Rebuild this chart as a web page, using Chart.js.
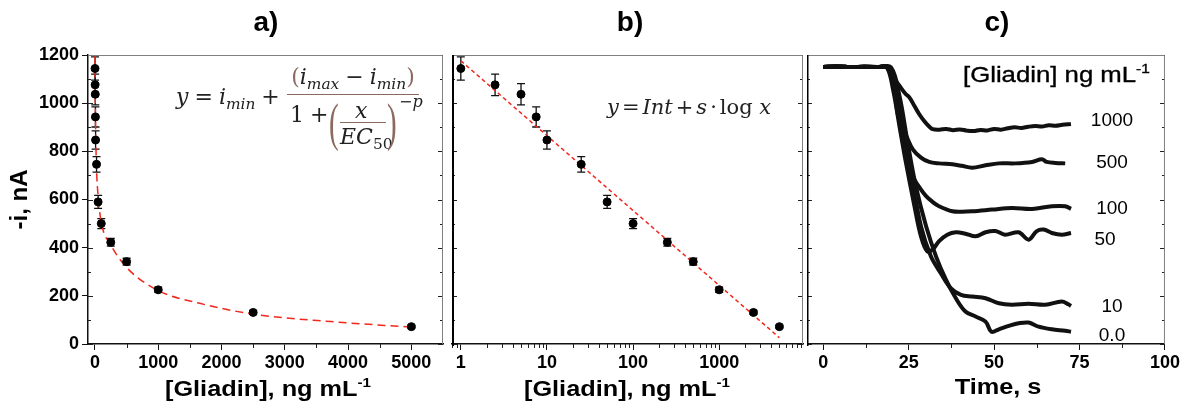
<!DOCTYPE html>
<html>
<head>
<meta charset="utf-8">
<title>Gliadin</title>
<script src="https://cdn.jsdelivr.net/npm/chart.js"></script>
<style>
    body { margin: 0; background: #fff; }
    #wrap { position: relative; width: 1182px; height: 410px; overflow: hidden; font-family: 'Liberation Sans', Arial, sans-serif; color: #000; }
    canvas { position: absolute; top: 0; }
    .t { position: absolute; white-space: nowrap; line-height: 1; }
    .panel { font-weight: bold; font-size: 28px; top: 8px; transform: translateX(-50%); }
    .xt { font-weight: bold; font-size: 22px; top: 376px; transform: translateX(-50%) scaleX(1.15); }
    .xt sup, .hd sup { font-size: 0.6em; vertical-align: 0.65em; }
    .hd { font-size: 22px; left: 963px; top: 62px; transform-origin: left center; transform: scaleX(1.17); -webkit-text-stroke: 0.35px #000; }
    .cl { font-size: 19px; transform: translate(-50%, -50%); }
    .m { font-family: 'DejaVu Serif', serif; font-style: italic; font-size: 22px; color: #222; }
    .m .up { font-style: normal; }
    .m sub { font-size: 0.7em; vertical-align: -0.35em; }
    .br { color: #8b6a60; font-style: normal; }
    .op { font-style: normal; margin: 0 6px; }
    #eqB .op { margin: 0 3px; }
    .big { font-family: 'Liberation Serif', serif; font-size: 29px; color: #8b6a60; transform: scaleY(1.8); transform-origin: top left; }
</style>
</head>
<body>
<div id="wrap">
    <canvas id="cA" width="448" height="410" style="left:0"></canvas>
    <canvas id="cB" width="361" height="410" style="left:447px"></canvas>
    <canvas id="cC" width="375" height="410" style="left:807px"></canvas>

    <div class="t panel" style="left:266px">a)</div>
    <div class="t panel" style="left:630px">b)</div>
    <div class="t panel" style="left:997px">c)</div>

    <div class="t xt" style="left:268px">[Gliadin], ng mL<sup>-1</sup></div>
    <div class="t xt" style="left:627px">[Gliadin], ng mL<sup>-1</sup></div>
    <div class="t xt" style="left:998px">Time, s</div>

    <!-- equation a -->
    <div class="t m" style="left:176px;top:86px">y<span class="op">=</span>i<sub>min</sub><span class="op">+</span></div>
    <div class="t m" style="left:353px;top:66px;transform:translateX(-50%)"><span class="br">(</span>i<sub>max</sub><span class="op">−</span>i<sub>min</sub><span class="br">)</span></div>
    <div class="t" style="left:287px;top:94px;width:132px;height:0;border-top:1.5px solid #8b6a60"></div>
    <div class="t m" style="left:290px;top:104px"><span class="up">1</span><span class="op">+</span></div>
    <div class="t big" style="left:329px;top:97px">(</div>
    <div class="t m" style="left:355px;top:100px">x</div>
    <div class="t" style="left:340px;top:122px;width:46px;height:0;border-top:1.5px solid #8b6a60"></div>
    <div class="t m" style="left:340px;top:126px">EC<sub class="up">50</sub></div>
    <div class="t big" style="left:387px;top:97px">)</div>
    <div class="t m" style="left:399px;top:94px;font-size:16px"><span class="up">−</span>p</div>

    <!-- equation b -->
    <div id="eqB" class="t m" style="left:607px;top:97px;font-size:21px">y<span class="op">=</span>Int<span class="op">+</span>s<span class="op">·</span><span class="up">log</span> x</div>

    <div class="t hd">[Gliadin] ng mL<sup>-1</sup></div>
    <div class="t cl" style="left:1112px;top:119px">1000</div>
    <div class="t cl" style="left:1112px;top:161px">500</div>
    <div class="t cl" style="left:1112px;top:207px">100</div>
    <div class="t cl" style="left:1105px;top:238px">50</div>
    <div class="t cl" style="left:1112px;top:305px">10</div>
    <div class="t cl" style="left:1112px;top:334px">0.0</div>
</div>

<script>
    // calibration data, panels a and b
    const conc = [1, 2.5, 5, 7.5, 10, 25, 50, 100, 250, 500, 1000, 2500, 5000];
    const current = [1144, 1076, 1037, 943, 847, 746, 590, 500, 422, 342, 225, 131, 72];
    const currentErr = [48, 45, 44, 42, 38, 32, 27, 21, 16, 14, 11, 8, 6];

    // fitted curves
    const fitAx = [0.3, 1, 2.5, 5, 10, 25, 50, 100, 250, 500, 1000, 1640, 2500, 3725, 5000];
    const fitAy = [1195, 1160, 1085, 1010, 900, 725, 615, 505, 412, 318, 222, 170, 124, 93, 70];
    const fitBx = [1, 5000];
    const fitBy = [1176, 26];

    // amperometric traces, panel c
    const t1000 = [0, 4, 8, 12, 16, 19.4, 20.9, 22.5, 24, 25.2, 26.7, 28.1, 29.6, 31, 32, 34, 36, 38, 40, 42, 44, 46, 48, 50, 52, 54, 56, 58, 60, 62, 64, 66, 68, 70, 72.5];
    const i1000 = [1150, 1152, 1150, 1151, 1150, 1148, 1100, 1068, 1040, 1024, 988, 954, 925, 903, 892, 890, 893, 888, 891, 886, 884, 889, 887, 893, 890, 896, 900, 897, 902, 905, 903, 908, 906, 910, 913];
    const t500 = [0, 4, 8, 12, 16, 19.3, 20.6, 21.9, 23.1, 24.3, 26.2, 28.6, 31, 33.9, 37.8, 40.5, 43.6, 47.5, 51.4, 56.2, 61.1, 64, 65.4, 68, 70.8];
    const i500 = [1150, 1152, 1150, 1151, 1150, 1148, 1080, 947, 900, 864, 808, 774, 756, 750, 746, 740, 732, 742, 750, 750, 756, 767, 756, 752, 750];
    const t100 = [0, 4, 8, 12, 16, 19, 20.5, 22, 23.7, 25.2, 26.7, 28.4, 30.1, 32, 33.9, 37.8, 40.7, 43.6, 49.4, 55.2, 61.1, 66.9, 70.8, 72.5];
    const i100 = [1150, 1152, 1150, 1151, 1150, 1148, 1075, 950, 808, 740, 683, 645, 614, 590, 572, 551, 549, 551, 558, 565, 561, 572, 572, 561];
    const t50 = [0, 4, 8, 12, 16, 18.6, 20.4, 22.3, 24.2, 26.7, 28.6, 30.4, 32, 33.9, 36.3, 38.8, 41.6, 44.6, 47.5, 50.4, 53.2, 57.2, 60.1, 62.5, 64.5, 66.9, 69.8, 72.5];
    const i50 = [1150, 1152, 1150, 1151, 1150, 1149, 1059, 905, 753, 572, 447, 385, 392, 427, 454, 464, 458, 447, 464, 469, 454, 464, 433, 469, 475, 461, 454, 461];
    const t10 = [0, 4, 8, 12, 16, 19.2, 21.3, 23.7, 26.2, 28.6, 31.5, 34.4, 37.3, 40.3, 43.6, 47.5, 51.4, 55.2, 60.1, 65, 69.8, 71.7, 72.5];
    const i10 = [1150, 1152, 1150, 1151, 1150, 1149, 1045, 850, 669, 489, 364, 294, 232, 204, 197, 190, 169, 163, 167, 163, 176, 165, 158];
    const t0 = [0, 4, 8, 12, 16, 19.8, 22.3, 24.7, 27.1, 30.1, 33, 35.9, 38.8, 41.6, 44.6, 47.5, 49.2, 51.4, 54.3, 57.2, 60.1, 63, 66.9, 70.8, 72.5];
    const i0 = [1150, 1152, 1150, 1151, 1150, 1149, 1031, 836, 655, 489, 364, 267, 190, 135, 114, 93, 51, 61, 75, 86, 89, 72, 61, 55, 51];

    // tick positions
    const yMajor = [0, 200, 400, 600, 800, 1000, 1200];
    const yMinor = [100, 300, 500, 700, 900, 1100];
    const xMajorA = [0, 1000, 2000, 3000, 4000, 5000];
    const xMinorA = [500, 1500, 2500, 3500, 4500, 5500];
    const xMajorB = [1, 10, 100, 1000];
    const xMinorB = [0.8, 0.9, 2, 3, 4, 5, 6, 7, 8, 9, 20, 30, 40, 50, 60, 70, 80, 90, 200, 300, 400, 500, 600, 700, 800, 900, 2000, 3000, 4000, 5000, 6000, 7000, 8000, 9000];
    const xMajorC = [0, 25, 50, 75, 100];
    const xMinorC = [12.5, 37.5, 62.5, 87.5];

    const pts = (xs, ys) => xs.map((x, i) => ({ x: x, y: ys[i] }));
    const tickFont = { family: "'Liberation Sans', Arial, sans-serif", size: 18, weight: 'bold' };

    // error bars
    const errorBars = {
        id: 'errorBars',
        beforeDatasetsDraw(chart) {
            const { ctx, scales } = chart;
            ctx.save();
            ctx.strokeStyle = '#111';
            ctx.lineWidth = 1.3;
            chart.data.datasets.forEach(ds => {
                if (!ds.errors) return;
                ds.data.forEach((p, i) => {
                    const x = scales.x.getPixelForValue(p.x);
                    const y1 = scales.y.getPixelForValue(p.y + ds.errors[i]);
                    const y2 = scales.y.getPixelForValue(p.y - ds.errors[i]);
                    ctx.beginPath();
                    ctx.moveTo(x, y1); ctx.lineTo(x, y2);
                    ctx.moveTo(x - 4, y1); ctx.lineTo(x + 4, y1);
                    ctx.moveTo(x - 4, y2); ctx.lineTo(x + 4, y2);
                    ctx.stroke();
                });
            });
            ctx.restore();
        }
    };

    // frame and small ticks
    const frame = {
        id: 'frame',
        afterDraw(chart, args, o) {
            const { ctx, chartArea: a, scales } = chart;
            ctx.save();
            ctx.lineWidth = 1;
            ctx.strokeStyle = '#222';
            ctx.beginPath();
            (o.xMinor || []).forEach(v => {
                const p = Math.round(scales.x.getPixelForValue(v)) + 0.5;
                if (p < a.left || p > a.right) return;
                ctx.moveTo(p, a.bottom); ctx.lineTo(p, a.bottom + 4);
            });
            yMajor.forEach(v => {
                const p = Math.round(scales.y.getPixelForValue(v)) + 0.5;
                ctx.moveTo(a.left, p); ctx.lineTo(a.left + 5, p);
                ctx.moveTo(a.right, p); ctx.lineTo(a.right - 5, p);
            });
            yMinor.forEach(v => {
                const p = Math.round(scales.y.getPixelForValue(v)) + 0.5;
                ctx.moveTo(a.left, p); ctx.lineTo(a.left + 3, p);
                ctx.moveTo(a.right, p); ctx.lineTo(a.right - 3, p);
            });
            ctx.stroke();
            ctx.strokeStyle = '#808080';
            ctx.beginPath();
            ctx.moveTo(a.left, a.top + 0.5);
            ctx.lineTo(a.right - 0.5, a.top + 0.5);
            ctx.lineTo(a.right - 0.5, a.bottom);
            ctx.stroke();
            if (o.leftLine) {
                ctx.strokeStyle = '#000';
                ctx.lineWidth = o.leftLine;
                ctx.beginPath();
                ctx.moveTo(a.left + o.leftLine / 2, a.top);
                ctx.lineTo(a.left + o.leftLine / 2, a.bottom + 2);
                ctx.stroke();
            }
            ctx.restore();
        }
    };

    function xAxis(type, min, max, major) {
        return {
            type: type, min: min, max: max,
            afterBuildTicks: s => { s.ticks = major.map(v => ({ value: v })); },
            afterFit: s => { s.height = 66; },
            ticks: { font: tickFont, color: '#000', padding: 2, maxRotation: 0, autoSkip: false, callback: v => String(v) },
            grid: { drawOnChartArea: false, tickLength: 6, tickColor: '#111', tickWidth: 1 },
            border: { color: '#111', width: 1.5 }
        };
    }

    const hiddenY = { min: 0, max: 1200, display: false };

    const base = {
        responsive: false,
        animation: false,
        events: [],
        plugins: { legend: { display: false }, tooltip: { enabled: false } }
    };

    new Chart(document.getElementById('cA'), {
        type: 'scatter',
        data: {
            datasets: [
                { data: pts(conc, current), errors: currentErr, pointRadius: 4, backgroundColor: '#000', borderColor: '#000', order: 1 },
                { data: pts(fitAx, fitAy), showLine: true, pointRadius: 0, borderColor: '#f0281e', borderWidth: 1.5, borderDash: [8, 5], cubicInterpolationMode: 'monotone', order: 2 }
            ]
        },
        options: Object.assign({}, base, {
            layout: { padding: { top: 55, right: 1, left: 0, bottom: 0 } },
            scales: {
                x: xAxis('linear', -110, 5500, xMajorA),
                y: {
                    min: 0, max: 1200,
                    afterBuildTicks: s => { s.ticks = yMajor.map(v => ({ value: v })); },
                    afterFit: s => { s.width = 88; },
                    ticks: { font: tickFont, color: '#000', padding: 3, callback: v => String(v) },
                    grid: { drawOnChartArea: false, tickLength: 6, tickColor: '#111' },
                    border: { color: '#111', width: 1.5 },
                    title: { display: true, text: '-i, nA', color: '#000', font: { family: "'Liberation Sans', Arial, sans-serif", size: 24, weight: 'bold' }, padding: { top: 6, bottom: 0 } }
                }
            },
            plugins: Object.assign({}, base.plugins, { frame: { xMinor: xMinorA } })
        }),
        plugins: [errorBars, frame]
    });

    new Chart(document.getElementById('cB'), {
        type: 'scatter',
        data: {
            datasets: [
                { data: pts(conc, current), errors: currentErr, pointRadius: 4, backgroundColor: '#000', borderColor: '#000', order: 1 },
                { data: pts(fitBx, fitBy), showLine: true, pointRadius: 0, borderColor: '#f0281e', borderWidth: 1.5, borderDash: [4, 3], order: 2 }
            ]
        },
        options: Object.assign({}, base, {
            layout: { padding: { top: 55, right: 1, left: 0, bottom: 0 } },
            scales: { x: xAxis('logarithmic', 0.79, 9400, xMajorB), y: hiddenY },
            plugins: Object.assign({}, base.plugins, { frame: { xMinor: xMinorB, leftLine: 2 } })
        }),
        plugins: [errorBars, frame]
    });

    const trace = (xs, ys) => ({ data: pts(xs, ys), showLine: true, pointRadius: 0, borderColor: '#111', borderWidth: 4, tension: 0.35 });

    new Chart(document.getElementById('cC'), {
        type: 'scatter',
        data: {
            datasets: [
                trace(t1000, i1000), trace(t500, i500), trace(t100, i100),
                trace(t50, i50), trace(t10, i10), trace(t0, i0)
            ]
        },
        options: Object.assign({}, base, {
            layout: { padding: { top: 55, right: 15, left: 0, bottom: 0 } },
            scales: { x: xAxis('linear', -4.75, 100, xMajorC), y: hiddenY },
            plugins: Object.assign({}, base.plugins, { frame: { xMinor: xMinorC, leftLine: 1.5 } })
        }),
        plugins: [frame]
    });
</script>
</body>
</html>
